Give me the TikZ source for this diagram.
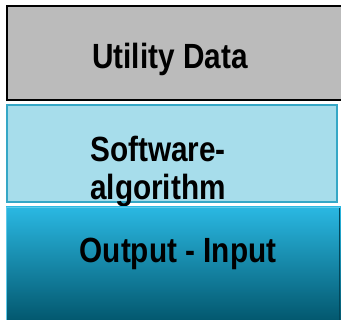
\documentclass[tikz,border=0pt]{standalone}
\usepackage{fontspec}
\setmainfont{Liberation Sans}[FakeStretch=0.85]
\definecolor{layergray}{HTML}{BBBBBB}
\definecolor{layerblue}{HTML}{A7DDEB}
\definecolor{layerblueedge}{HTML}{35A7C6}
\definecolor{tealtop}{HTML}{2AB8E2}
\definecolor{tealbottom}{HTML}{03586F}
\definecolor{tealedge}{HTML}{5CC9EA}
\begin{document}
\begin{tikzpicture}[x=1pt,y=1pt,
  label/.style={font=\fontsize{35}{35}\selectfont\bfseries, text=black, align=center}]
  \useasboundingbox (0,0) rectangle (341,320);
  \clip (0,0) rectangle (341,320);
  \fill[white] (0,0) rectangle (341,320);
  % top layer
  \draw[line width=2pt, fill=layergray] (7,314) rectangle (350,220);
  \node[label] (util) at (170,261) {Utility Data};
  % middle layer
  \draw[line width=2pt, draw=layerblueedge, fill=layerblue] (7,215) rectangle (337,118);
  \node[label] (soft) at (158,148) {Software-\\[3pt]algorithm};
  % bottom layer with vertical shading
  \shade[top color=tealtop, bottom color=tealbottom] (6,113) rectangle (341,0);
  \draw[line width=1pt, tealedge] (6.5,0) -- (6.5,112.5) -- (340,112.5);
  \draw[line width=1pt, tealbottom!80!black] (339.5,112) -- (339.5,0);
  \node[label] (io) at (178,66) {Output - Input};
\end{tikzpicture}
\end{document}
